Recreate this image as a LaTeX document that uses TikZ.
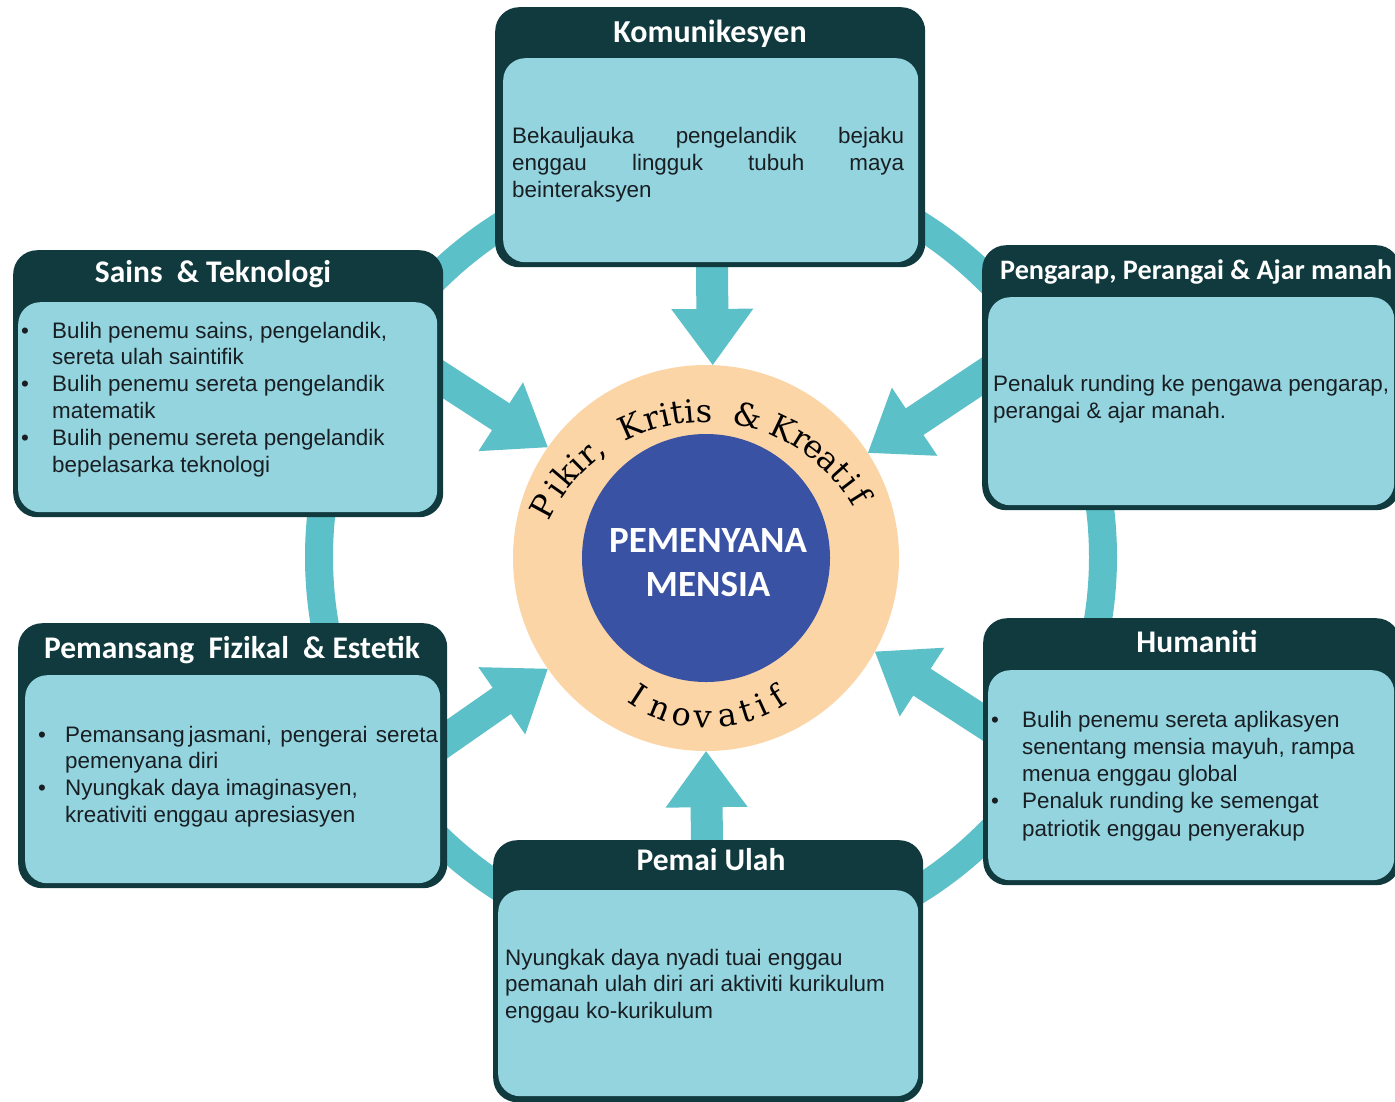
\documentclass[tikz,border=0pt]{standalone}
\usepackage{fontspec}
\setmainfont{Liberation Sans}
\newfontfamily\headfont{Carlito}
\newfontfamily\curvefont{DejaVu Serif}
\usetikzlibrary{calc}
\definecolor{darkbg}{RGB}{16,58,62}
\definecolor{lightbg}{RGB}{147,212,222}
\definecolor{teal1}{RGB}{91,192,200}
\definecolor{peach}{RGB}{251,213,166}
\definecolor{coreblue}{RGB}{58,82,164}
\definecolor{bodytext}{RGB}{25,30,35}
\newcommand\bitem[2][31pt]{\noindent\hangindent=#1\hangafter=1\makebox[#1][l]{\textbullet}#2\par}
\newcommand\blockarrow[2]{%
  \draw[shaftline] (#1) -- ($(#2)!50pt!(#1)$);
  \fill[teal1] (#2) -- ($(#2)!56pt!(#1)!41pt!90:(#1)$) -- ($(#2)!56pt!(#1)!41pt!-90:(#1)$) -- cycle;}
\begin{document}
\begin{tikzpicture}[x=1pt,y=1pt,
  outerbox/.style={fill=darkbg, rounded corners=24pt, inner sep=0pt, anchor=north west},
  innerbox/.style={fill=lightbg, rounded corners=22pt, inner sep=0pt, anchor=north west},
  head/.style={font=\headfont\bfseries\fontsize{31.5}{36}\selectfont, text=white, inner sep=0pt, anchor=base},
  body/.style={font=\fontsize{22.4}{27}\selectfont, text=bodytext, inner sep=0pt, align=justify, anchor=base west},
  shaftline/.style={draw=teal1, line width=32pt},
  arcchar/.style={font=\curvefont\fontsize{32}{32}\selectfont, inner sep=0pt, anchor=base, text=black}
]
\useasboundingbox (0,0) rectangle (1395,-1101);
\clip (0,0) rectangle (1395,-1101);
\fill[white] (0,0) rectangle (1395,-1101);

% ring
\node[circle, draw=teal1, line width=28pt, minimum size=784pt, inner sep=0pt] (ring) at (711,-557) {};

% core
\node[circle, fill=peach, minimum size=386pt, inner sep=0pt] (core) at (706,-558) {};

% arrows
\coordinate (topstart) at (712,-262);
\coordinate (botstart) at (707,-845);
\coordinate (ulstart) at (421,-365);
\coordinate (urstart) at (995,-368);
\coordinate (llstart) at (424,-755);
\coordinate (lrstart) at (1002,-734);
\blockarrow{topstart}{core.88}
\blockarrow{botstart}{core.270}
\blockarrow{ulstart}{core.145}
\blockarrow{urstart}{core.33}
\blockarrow{llstart}{core.215}
\blockarrow{lrstart}{core.331}

\node[circle, fill=coreblue, minimum size=248pt, inner sep=0pt] (heart) at (706,-558) {};
\node[text=white, align=center, inner sep=0pt,
      font=\headfont\bfseries\fontsize{37}{44}\selectfont] (hearttext) at (708,-563) {PEMENYANA\\MENSIA};

\coordinate (topc) at (705,-594);
\foreach \c/\a [count=\i] in {P/151.5, i/144.8, k/139.6, i/134.6, r/130.0, {,}/126.3, K/114.0, r/107.0, i/102.6, t/98.6, i/94.8, s/90.3, \&/76.6, K/64.6, r/58.1, e/53.0, a/47.2, t/41.9, i/37.4, f/32.0}
  \node[arcchar, rotate=\a-90] (topc\i) at ($(topc)+(\a:172)$) {\c};
\coordinate (botc) at (708,-588);
\foreach \c/\a [count=\i] in {I/237.0, n/248.2, o/258.4, v/267.8, a/278.4, t/287.3, i/294.4, f/302.5}
  \node[arcchar, rotate=\a+90] (botc\i) at ($(botc)+(\a:140)$) {\c};

% Komunikesyen
\node[outerbox, minimum width=430pt, minimum height=260pt] (komu) at (495,-7) {};
\node[innerbox, minimum width=415pt, minimum height=204pt] (komuin) at (503,-58) {};
\node[head, font=\headfont\bfseries\fontsize{32}{36}\selectfont] (komuh) at (710,-42) {Komunikesyen};
\node[body, text width=392pt] (komub) at (512,-143) {\makebox[392pt]{Bekauljauka\hfill pengelandik\hfill bejaku}\newline\makebox[392pt]{enggau\hfill lingguk\hfill tubuh\hfill maya}\newline beinteraksyen};

% Sains
\node[outerbox, minimum width=430pt, minimum height=267pt] (sains) at (13,-250) {};
\node[innerbox, minimum width=419pt, minimum height=210pt] (sainsin) at (18,-302) {};
\node[head] (sainsh) at (213,-282) {Sains~ \& Teknologi};
\node[body, text width=410pt, font=\fontsize{22.4}{26.8}\selectfont] (sainsb) at (21,-338) {\bitem{Bulih penemu sains, pengelandik,\newline sereta ulah saintifik}\bitem{Bulih penemu sereta pengelandik\newline matematik}\bitem{Bulih penemu sereta pengelandik\newline bepelasarka teknologi}};

% Pengarap
\node[outerbox, minimum width=418pt, minimum height=265pt] (peng) at (982,-245) {};
\node[innerbox, minimum width=406pt, minimum height=208pt] (pengin) at (988,-297) {};
\node[head, anchor=base west, font=\headfont\bfseries\fontsize{28.2}{34}\selectfont] (pengh) at (1000,-279) {Pengarap, Perangai \& Ajar manah};
\node[body, text width=420pt] (pengb) at (993,-391) {Penaluk runding ke pengawa pengarap,\newline perangai \& ajar manah.};

% Humaniti
\node[outerbox, minimum width=417pt, minimum height=267pt] (huma) at (983,-618) {};
\node[innerbox, minimum width=406pt, minimum height=210pt] (humain) at (988,-670) {};
\node[head] (humah) at (1197,-652) {Humaniti};
\node[body, text width=400pt, font=\fontsize{22.4}{27.3}\selectfont] (humab) at (991,-727) {\bitem{Bulih penemu sereta aplikasyen\newline senentang mensia mayuh, rampa\newline menua enggau global}\bitem{Penaluk runding ke semengat\newline patriotik enggau penyerakup}};

% Pemansang
\node[outerbox, minimum width=429pt, minimum height=265pt] (pema) at (18,-623) {};
\node[innerbox, minimum width=415pt, minimum height=208pt] (pemain) at (25,-675) {};
\node[head] (pemah) at (232,-658) {Pemansang~ Fizikal~ \& Estetik};
\node[body, text width=410pt, font=\fontsize{22.4}{26.9}\selectfont] (pemab) at (38,-742) {\bitem[27pt]{\makebox[373pt]{Pemansang\hspace{4pt}jasmani,\hfill pengerai\hfill sereta}\newline pemenyana diri}\bitem[27pt]{Nyungkak daya imaginasyen,\newline kreativiti enggau apresiasyen}};

% Pemai Ulah
\node[outerbox, minimum width=430pt, minimum height=262pt] (ulah) at (493,-840) {};
\node[innerbox, minimum width=420pt, minimum height=206pt] (ulahin) at (498,-890) {};
\node[head] (ulahh) at (711,-870) {Pemai Ulah};
\node[body, text width=410pt, font=\fontsize{22.4}{26.5}\selectfont] (ulahb) at (505,-965) {Nyungkak daya nyadi tuai enggau\newline pemanah ulah diri ari aktiviti kurikulum\newline enggau ko-kurikulum};
\end{tikzpicture}
\end{document}
